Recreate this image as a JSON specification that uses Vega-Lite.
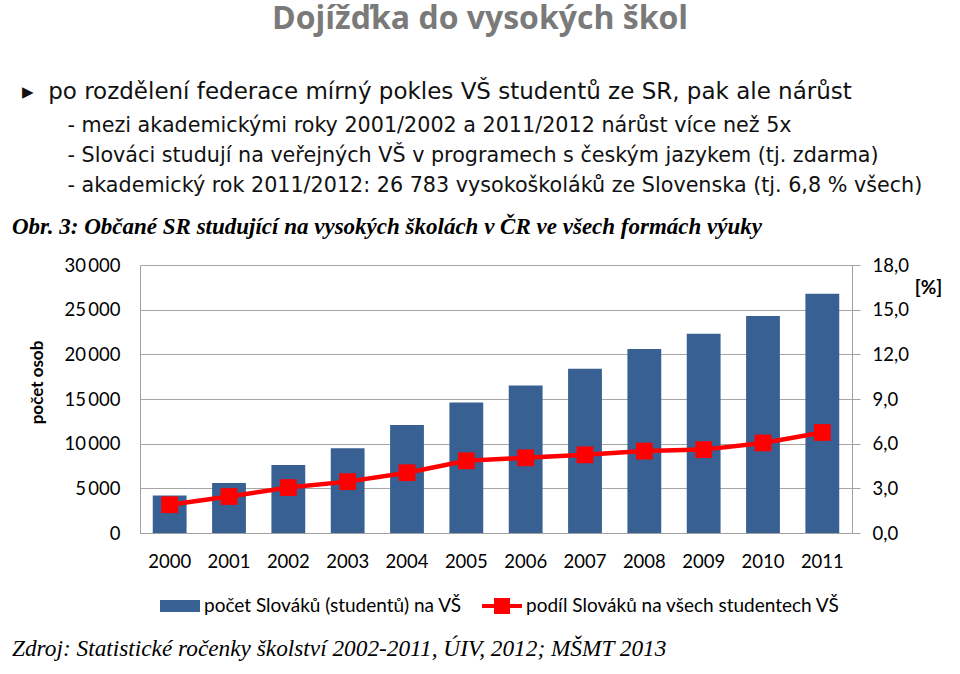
{
  "$schema": "https://vega.github.io/schema/vega-lite/v6.json",
  "background": "white",
  "padding": {"left": 12, "top": 3, "right": 0, "bottom": 0},
  "title": {
    "text": "Dojížďka do vysokých škol",
    "anchor": "start",
    "frame": "bounds",
    "dx": 260,
    "font": "Open Sans",
    "fontSize": 32,
    "fontWeight": "bold",
    "color": "#7a7a7a",
    "offset": 45
  },
  "spacing": 0,
  "resolve": {"scale": {"fill": "independent"}, "legend": {"fill": "independent"}},
  "vconcat": [
    {
      "width": 712,
      "height": 1,
      "data": {"values": []},
      "mark": "point",
      "title": {
        "text": "▸\u00a0\u00a0po rozdělení federace mírný pokles VŠ studentů ze SR, pak ale nárůst",
        "subtitle": [
          "\u200b\u2003\u2003\u2009- mezi akademickými roky 2001/2002 a 2011/2012 nárůst více než 5x",
          "\u200b\u2003\u2003\u2009- Slováci studují na veřejných VŠ v programech s českým jazykem (tj. zdarma)",
          "\u200b\u2003\u2003\u2009- akademický rok 2011/2012: 26 783 vysokoškoláků ze Slovenska (tj. 6,8 % všech)"
        ],
        "anchor": "start",
        "frame": "group",
        "dx": -118,
        "font": "DejaVu Sans",
        "fontSize": 23,
        "fontWeight": "normal",
        "color": "#111111",
        "subtitleFont": "DejaVu Sans",
        "subtitleFontSize": 20.7,
        "subtitleColor": "#111111",
        "subtitleLineHeight": 30,
        "subtitlePadding": 12,
        "offset": 19
      }
    },
    {
      "width": 712,
      "height": 268,
      "data": {
        "values": [
          {"year": "2000", "count": 4200, "pct": 1.9},
          {"year": "2001", "count": 5600, "pct": 2.45},
          {"year": "2002", "count": 7600, "pct": 3.05},
          {"year": "2003", "count": 9500, "pct": 3.45},
          {"year": "2004", "count": 12100, "pct": 4.05},
          {"year": "2005", "count": 14600, "pct": 4.85},
          {"year": "2006", "count": 16500, "pct": 5.05},
          {"year": "2007", "count": 18400, "pct": 5.25},
          {"year": "2008", "count": 20600, "pct": 5.5},
          {"year": "2009", "count": 22300, "pct": 5.6},
          {"year": "2010", "count": 24300, "pct": 6.05},
          {"year": "2011", "count": 26783, "pct": 6.75}
        ]
      },
      "title": {
        "text": "Obr. 3: Občané SR studující na vysokých školách v ČR ve všech formách výuky",
        "anchor": "start",
        "frame": "group",
        "dx": -128,
        "font": "Liberation Serif",
        "fontStyle": "italic",
        "fontWeight": "bold",
        "fontSize": 23,
        "color": "#000000",
        "offset": 17
      },
      "encoding": {
        "x": {
          "field": "year",
          "type": "ordinal",
          "scale": {"paddingInner": 0.43, "paddingOuter": 0.215},
          "axis": {"title": null, "labelAngle": 0, "ticks": false, "labelPadding": 19, "domainColor": "#a0a0a0"}
        }
      },
      "layer": [
        {
          "mark": {"type": "bar", "color": "#386092"},
          "encoding": {
            "y": {
              "field": "count",
              "type": "quantitative",
              "scale": {"domain": [0, 30000], "nice": false},
              "axis": {
                "title": "počet osob",
                "titleFont": "Lato",
                "titleFontSize": 17,
                "titleFontWeight": "bold",
                "titleColor": "#000000",
                "titlePadding": 18,
                "titleY": 117,
                "values": [0, 5000, 10000, 15000, 20000, 25000, 30000],
                "labelExpr": "replace(format(datum.value, ','), ',', '\u2009')",
                "ticks": false,
                "labelPadding": 20,
                "grid": true,
                "gridColor": "#a6a6a6",
                "domainColor": "#a0a0a0"
              }
            },
            "fill": {
              "datum": "počet Slováků (studentů) na VŠ",
              "type": "nominal",
              "scale": {
                "domain": ["počet Slováků (studentů) na VŠ", "podíl Slováků na všech studentech VŠ"],
                "range": ["#386092", "#ff0000"]
              },
              "legend": {
                "orient": "bottom",
                "direction": "horizontal",
                "title": null,
                "offset": -5,
                "padding": 20,
                "labelFont": "Lato",
                "labelFontSize": 19,
                "labelColor": "#000000",
                "labelLimit": 400,
                "labelOffset": 4,
                "columnPadding": 20,
                "symbolSize": 1600,
                "symbolStrokeWidth": 0,
                "encoding": {
                  "symbols": {
                    "shape": {"value": {"expr": "indexof(datum.value, 'počet') >= 0 ? 'M-1,-0.3H1V0.3H-1Z' : 'M-1,-0.1H1V0.1H-1Z M-0.4,-0.4H0.4V0.4H-0.4Z'"}}
                  }
                }
              }
            }
          }
        },
        {
          "encoding": {
            "y": {
              "field": "pct",
              "type": "quantitative",
              "scale": {"domain": [0, 18], "nice": false},
              "axis": {
                "orient": "right",
                "values": [0, 3, 6, 9, 12, 15, 18],
                "labelExpr": "replace(format(datum.value, '.1f'), '.', ',')",
                "grid": false,
                "ticks": true,
                "tickSize": 8,
                "tickColor": "#a0a0a0",
                "labelPadding": 12,
                "domainColor": "#a0a0a0",
                "title": "[%]",
                "titleAngle": 0,
                "titleFont": "Lato",
                "titleFontSize": 19,
                "titleFontWeight": "bold",
                "titleColor": "#000000",
                "titleAlign": "center",
                "titleBaseline": "alphabetic",
                "titleX": 76,
                "titleY": 28
              }
            }
          },
          "layer": [
            {"mark": {"type": "line", "color": "#ff0000", "strokeWidth": 4.5}},
            {
              "mark": {"type": "point", "shape": "square", "filled": true, "size": 280, "opacity": 1},
              "encoding": {"fill": {"datum": "podíl Slováků na všech studentech VŠ", "type": "nominal"}}
            }
          ]
        }
      ],
      "resolve": {"scale": {"y": "independent"}}
    },
    {
      "width": 712,
      "height": 1,
      "data": {"values": []},
      "mark": "point",
      "title": {
        "text": "Zdroj: Statistické ročenky školství 2002-2011, ÚIV, 2012; MŠMT 2013",
        "anchor": "start",
        "frame": "group",
        "dx": -128,
        "dy": -1,
        "font": "Liberation Serif",
        "fontStyle": "italic",
        "fontWeight": "normal",
        "fontSize": 23.3,
        "color": "#000000",
        "offset": 4
      }
    }
  ],
  "config": {
    "view": {"stroke": null},
    "axis": {"labelFont": "Lato", "labelFontSize": 18.5, "labelColor": "#000000"}
  }
}
